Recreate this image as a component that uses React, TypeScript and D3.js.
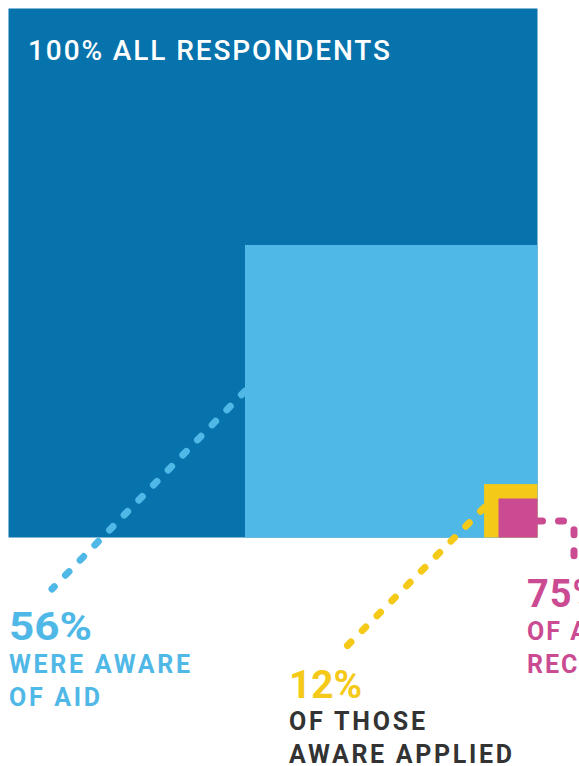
import React from "react";
import * as d3 from "d3";

// Data
const levels = ["ALL RESPONDENTS", "WERE AWARE OF AID", "OF THOSE AWARE APPLIED", "OF APPLICANTS RECEIVED AID"];
const percents = [100, 56, 12, 75];
// relative side of each nested square (to the whole square)
const sideShares = [1, 0.553, 0.101, 0.0737];
const colors = ["#0673AD", "#50B8E7", "#F4C918", "#CB4B93"];
const labelColors = ["#ffffff", "#50B8E7", "#F4C918", "#CB4B93"];
const labelSubColors = ["#ffffff", "#50B8E7", "#333333", "#CB4B93"];
const labelLines = [
  ["ALL RESPONDENTS"],
  ["WERE AWARE", "OF AID"],
  ["OF THOSE", "AWARE APPLIED"],
  ["OF APPLICANTS", "RECEIVED AID"],
];

const W = 579;
const H = 766;
const FONT = "Roboto, 'Open Sans', sans-serif";

export default function App() {
  const x0 = 8.5;
  const y0 = 8.5;
  const full = 529;
  const side = d3.scaleLinear().domain([0, 1]).range([0, full]);
  const right = x0 + full;
  const bottom = y0 + full;

  const squares = sideShares.map((s, i) => {
    const len = side(s);
    return { i, x: right - len, y: bottom - len, len, color: colors[i] };
  });

  const sq1 = squares[1];
  const sq2 = squares[2];
  const sq3 = squares[3];

  const blueStart: [number, number] = [sq1.x, sq1.y + sq1.len / 2];
  const blueEnd: [number, number] = [52, 589];
  const yellowStart: [number, number] = [sq2.x, sq2.y + sq2.len / 2 - 3];
  const yellowEnd: [number, number] = [340, 653];
  const my = sq3.y + sq3.len / 2 + 3;
  const magentaPath = `M${right},${my} H566 Q574,${my} 574,${my + 8} V558`;

  const dash = { strokeWidth: 7, strokeLinecap: "round" as const, strokeDasharray: "5 16", fill: "none" };

  const big = { fontFamily: FONT, fontWeight: 700, fontSize: 38 };
  const sub = { fontFamily: FONT, fontWeight: 700, fontSize: 25 };

  return (
    <svg width={W} height={H} style={{ position: "absolute", left: 0, top: 0, background: "#fff" }}>
      {squares.map((s) => (
        <rect key={s.i} x={s.x} y={s.y} width={s.len} height={s.len} fill={s.color} />
      ))}

      <path d={d3.line()([blueStart, blueEnd]) || ""} stroke={colors[1]} {...dash} />
      <path d={d3.line()([yellowStart, yellowEnd]) || ""} stroke={colors[2]} {...dash} />
      <path d={magentaPath} stroke={colors[3]} {...dash} />

      {/* title inside the big square */}
      <text x={28} y={60} fill={labelColors[0]} fontFamily={FONT} fontWeight={500} fontSize={28}
        textLength={362} lengthAdjust="spacing">
        {`${percents[0]}% ${labelLines[0][0]}`}
      </text>

      {/* 56% label */}
      <text x={9} y={640} fill={labelColors[1]} {...big}
        textLength={83} lengthAdjust="spacingAndGlyphs">{`${percents[1]}%`}</text>
      <text x={9} y={673} fill={labelSubColors[1]} {...sub}
        textLength={181} lengthAdjust="spacing">{labelLines[1][0]}</text>
      <text x={9} y={706} fill={labelSubColors[1]} {...sub}
        textLength={91} lengthAdjust="spacing">{labelLines[1][1]}</text>

      {/* 12% label */}
      <text x={289} y={698} fill={labelColors[2]} {...big}
        textLength={73} lengthAdjust="spacingAndGlyphs">{`${percents[2]}%`}</text>
      <text x={289} y={730} fill={labelSubColors[2]} {...sub}
        textLength={136} lengthAdjust="spacing">{labelLines[2][0]}</text>
      <text x={289} y={763} fill={labelSubColors[2]} {...sub}
        textLength={223} lengthAdjust="spacing">{labelLines[2][1]}</text>

      {/* 75% label (runs off the right edge, as in the reference) */}
      <text x={527} y={607} fill={labelColors[3]} {...big} letterSpacing={1}>{`${percents[3]}%`}</text>
      <text x={527} y={640} fill={labelSubColors[3]} {...sub} letterSpacing={2}>{labelLines[3][0]}</text>
      <text x={527} y={673} fill={labelSubColors[3]} {...sub} letterSpacing={2}>{labelLines[3][1]}</text>
    </svg>
  );
}
